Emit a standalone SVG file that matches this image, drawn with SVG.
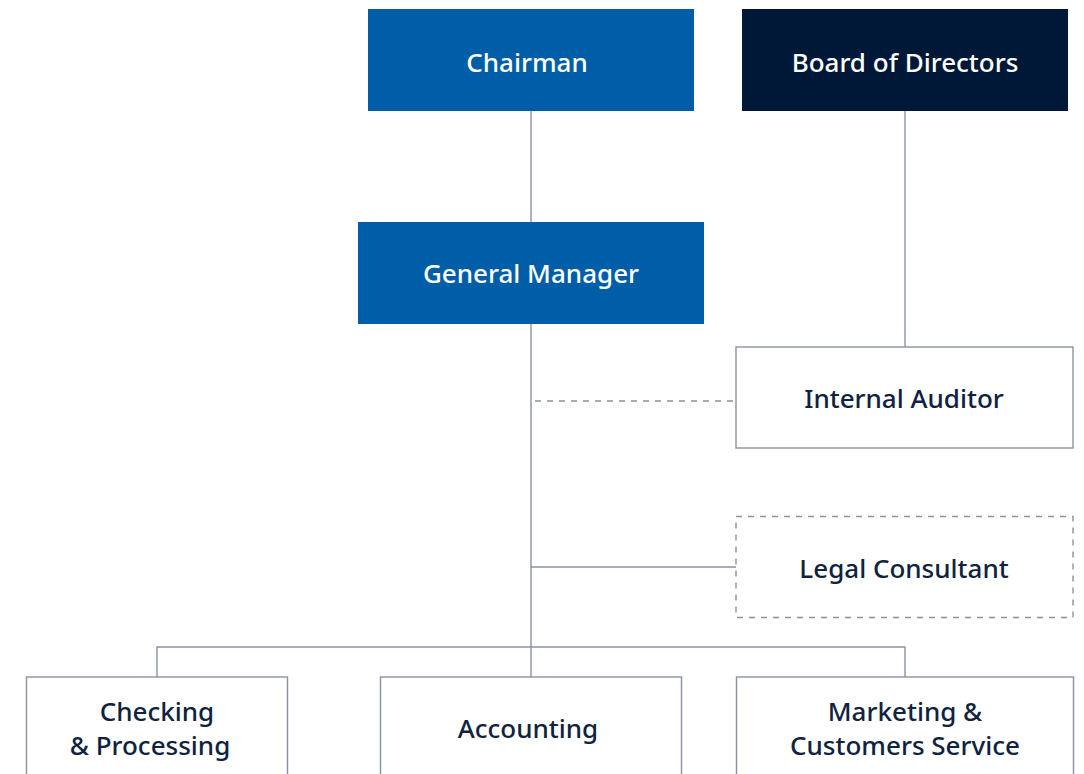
<svg xmlns="http://www.w3.org/2000/svg" width="1084" height="774" viewBox="0 0 1084 774">
<style>
.t{font-family:"Noto Sans","Open Sans",sans-serif;font-size:26px;font-weight:500;text-anchor:middle;dominant-baseline:central}
.w{fill:#ffffff}
.d{fill:#0f2340}
.box{fill:#ffffff;stroke:#8a92a0;stroke-width:1.4}
.ln{stroke:#8a92a0;stroke-width:1.4;fill:none}
.dash{stroke-dasharray:6 6}
</style>
<rect width="1084" height="774" fill="#ffffff"/>
<g id="connectors">
<path class="ln" d="M531 111V222"/>
<path class="ln" d="M905 111V347"/>
<path class="ln" d="M531 324V677"/>
<path class="ln dash" d="M535 401H736"/>
<path class="ln" d="M531 567H736"/>
<path class="ln" d="M157 677V647H905V677"/>
</g>
<g id="chairman">
<rect x="368" y="9" width="326" height="102" fill="#005ea8"/>
<text class="t w" x="527" y="62">Chairman</text>
</g>
<g id="board">
<rect x="742" y="9" width="326" height="102" fill="#001838"/>
<text class="t w" x="905" y="62">Board of Directors</text>
</g>
<g id="gm">
<rect x="358" y="222" width="346" height="102" fill="#005ea8"/>
<text class="t w" x="531" y="273">General Manager</text>
</g>
<g id="auditor">
<rect class="box" x="736" y="347" width="337" height="101"/>
<text class="t d" x="904" y="398">Internal Auditor</text>
</g>
<g id="legal">
<rect class="box dash" x="736" y="516.5" width="337" height="101"/>
<text class="t d" x="904" y="568">Legal Consultant</text>
</g>
<g id="checking">
<rect class="box" x="26.5" y="677" width="261" height="110"/>
<text class="t d" x="157" y="711">Checking</text>
<text class="t d" x="150" y="745">&amp; Processing</text>
</g>
<g id="accounting">
<rect class="box" x="380.5" y="677" width="301" height="110"/>
<text class="t d" x="528" y="728">Accounting</text>
</g>
<g id="marketing">
<rect class="box" x="736.5" y="677" width="337" height="110"/>
<text class="t d" x="905" y="711">Marketing &amp;</text>
<text class="t d" x="905" y="745">Customers Service</text>
</g>
</svg>
